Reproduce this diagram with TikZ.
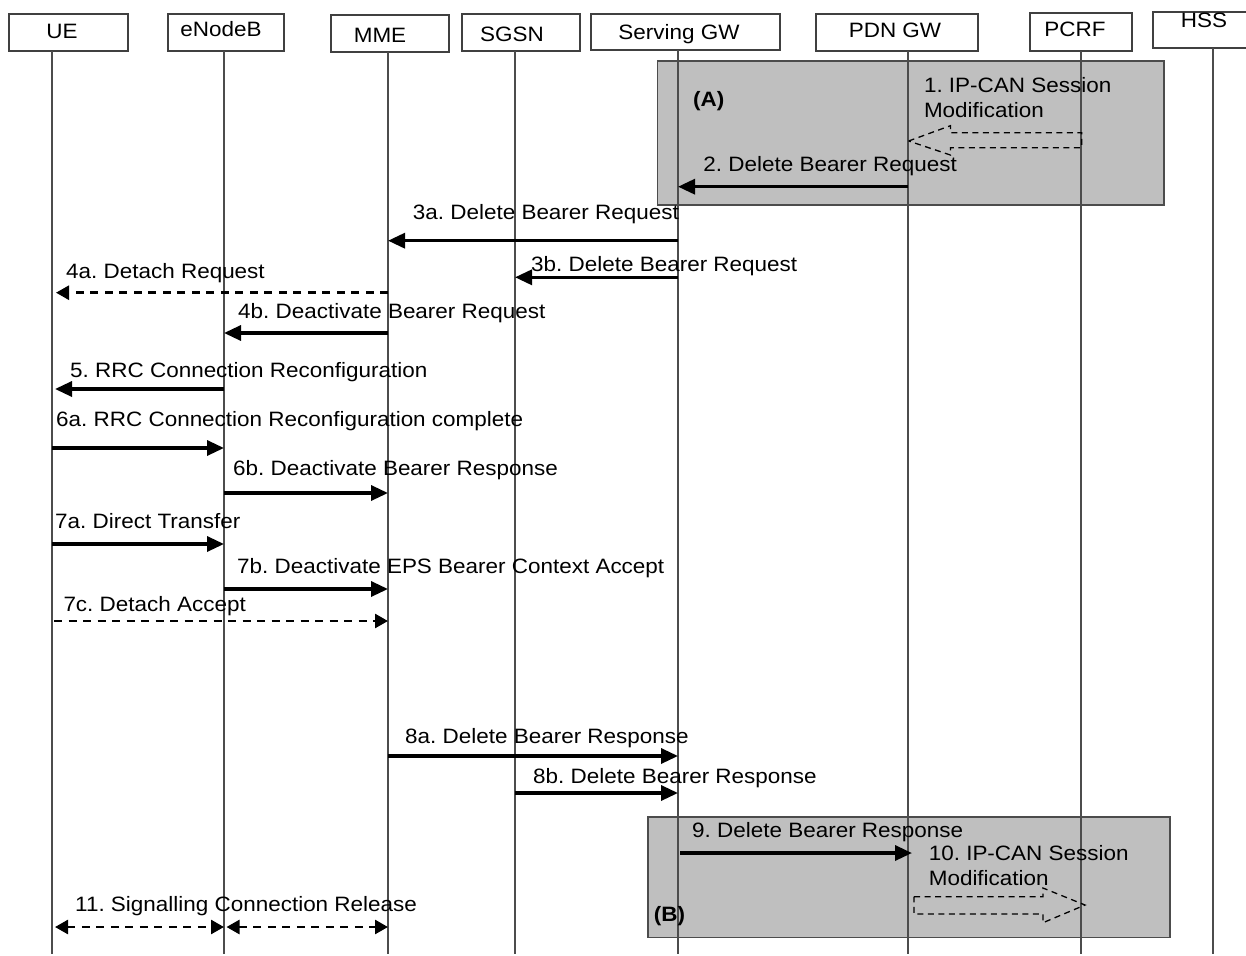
\documentclass[tikz,border=0pt]{standalone}
\usepackage{fontspec}
\setmainfont{Liberation Sans}[FakeStretch=1.08]
\usetikzlibrary{arrows.meta}
\frenchspacing
\begin{document}
\begin{tikzpicture}[x=1pt,y=-1pt,
  font=\fontsize{20.8}{24}\selectfont,
  hdr/.style={draw=black!75, line width=1.3pt, fill=white, inner sep=0pt},
  grp/.style={draw=black!70, line width=1.2pt, fill=black!25},
  life/.style={draw=black!70, line width=1.1pt},
  msg/.style={line width=3.3pt, -{Triangle[length=17pt,width=15pt]}},
  dmsg/.style={line width=2.6pt, dash pattern=on 8pt off 6.5pt, -{Triangle[length=13pt,width=14pt]}},
  dbl/.style={line width=2.6pt, dash pattern=on 8pt off 6.5pt, {Triangle[length=13pt,width=14pt]}-{Triangle[length=13pt,width=14pt]}},
  blk/.style={line width=1.3pt, dash pattern=on 6pt off 4.5pt},
  lbl/.style={anchor=base west, inner sep=0pt},
  htxt/.style={anchor=base, inner sep=0pt}]
\useasboundingbox (0,0) rectangle (1246,955);

% header boxes
\node[hdr, minimum width=119pt, minimum height=37pt] (ue)   at (68.5,32.5) {};
\node[hdr, minimum width=116pt, minimum height=37pt] (enb)  at (226,32.5) {};
\node[hdr, minimum width=118pt, minimum height=37pt] (mme)  at (390,33.5) {};
\node[hdr, minimum width=118pt, minimum height=37pt] (sgsn) at (521,32.5) {};
\node[hdr, minimum width=189pt, minimum height=36pt] (sgw)  at (685.5,32) {};
\node[hdr, minimum width=162pt, minimum height=37pt] (pgw)  at (897,32.5) {};
\node[hdr, minimum width=102pt, minimum height=38pt] (pcrf) at (1081,32) {};
\node[hdr, minimum width=99pt,  minimum height=36pt] (hss)  at (1202.5,30) {};

\node[htxt] (tue)   at (62,39)   {UE};
\node[htxt] (tenb)  at (221,37)  {eNodeB};
\node[htxt] (tmme)  at (380,43)  {MME};
\node[htxt] (tsgsn) at (512,42)  {SGSN};
\node[htxt] (tsgw)  at (679,40)  {Serving GW};
\node[htxt] (tpgw)  at (895,38)  {PDN GW};
\node[htxt] (tpcrf) at (1075,37) {PCRF};
\node[htxt] (thss)  at (1204,28) {HSS};

% group boxes
\draw[grp] (657.6,61) rectangle (1164,205);
\draw[grp] (648,817) rectangle (1170,937.7);

% lifeline coordinates
\coordinate (ueL)   at (52,51);
\coordinate (enbL)  at (224,51);
\coordinate (mmeL)  at (388,52);
\coordinate (sgsnL) at (515,51);
\coordinate (sgwL)  at (678,50);
\coordinate (pgwL)  at (908,51);
\coordinate (pcrfL) at (1081,51);
\coordinate (hssL)  at (1213,48);
\foreach \n in {ueL,enbL,mmeL,sgsnL,sgwL,pgwL,pcrfL,hssL}
  \draw[life] (\n) -- (\n |- 0,954);

% block arrows
\draw[blk] (908.6,141) -- (950.4,125.7) -- (950.4,132.7) -- (1081.6,132.7) -- (1081.6,147.7) -- (950.4,147.7) -- (950.4,155) -- cycle;
\draw[blk] (914,896.7) -- (1043,896.7) -- (1043,888) -- (1085,905) -- (1043,922.7) -- (1043,914) -- (914,914) -- cycle;

% messages
\draw[msg] (pgwL |- 0,186.7) -- (sgwL |- 0,186.7);
\draw[msg] (sgwL |- 0,240.7) -- (mmeL |- 0,240.7);
\draw[msg] (sgwL |- 0,277.3) -- (sgsnL |- 0,277.3);
\draw[dmsg, shorten >=4pt] (mmeL |- 0,292.7) -- (ueL |- 0,292.7);
\draw[msg] (mmeL |- 0,333) -- (enbL |- 0,333);
\draw[msg, shorten >=3pt] (enbL |- 0,389) -- (ueL |- 0,389);
\draw[msg] (ueL |- 0,448) -- (enbL |- 0,448);
\draw[msg] (enbL |- 0,493) -- (mmeL |- 0,493);
\draw[msg] (ueL |- 0,544) -- (enbL |- 0,544);
\draw[msg] (enbL |- 0,589) -- (mmeL |- 0,589);
\draw[dmsg, shorten <=2pt] (ueL |- 0,621) -- (mmeL |- 0,621);
\draw[msg] (mmeL |- 0,756) -- (sgwL |- 0,756);
\draw[msg] (sgsnL |- 0,793) -- (sgwL |- 0,793);
\draw[msg, shorten <=2pt, shorten >=-4pt] (sgwL |- 0,853) -- (pgwL |- 0,853);
\draw[dbl, shorten <=3pt] (ueL |- 0,927) -- (enbL |- 0,927);
\draw[dbl, shorten <=2.5pt] (enbL |- 0,927) -- (mmeL |- 0,927);

% labels
\node[lbl] (l1a) at (923.8,92.3) {1. IP-CAN Session};
\node[lbl] (l1b) at (923.8,117.7) {Modification};
\node[lbl, font=\fontsize{20.8}{24}\selectfont\bfseries] (lA) at (693,106.7) {(A)};
\node[lbl] (l2)  at (703.2,171.7) {2. Delete Bearer Request};
\node[lbl] (l3a) at (412.7,219) {3a. Delete Bearer Request};
\node[lbl] (l3b) at (531,271.7) {3b. Delete Bearer Request};
\node[lbl] (l4a) at (66,278.7) {4a. Detach Request};
\node[lbl] (l4b) at (238,318) {4b. Deactivate Bearer Request};
\node[lbl] (l5)  at (70,377) {5. RRC Connection Reconfiguration};
\node[lbl] (l6a) at (56,426.7) {6a. RRC Connection Reconfiguration complete};
\node[lbl] (l6b) at (233,475) {6b. Deactivate Bearer Response};
\node[lbl] (l7a) at (55,528) {7a. Direct Transfer};
\node[lbl] (l7b) at (237,573) {7b. Deactivate EPS Bearer Context Accept};
\node[lbl] (l7c) at (63.3,611.7) {7c. Detach Accept};
\node[lbl] (l8a) at (405,743) {8a. Delete Bearer Response};
\node[lbl] (l8b) at (533,783) {8b. Delete Bearer Response};
\node[lbl] (l9)  at (692,837.7) {9. Delete Bearer Response};
\node[lbl] (l10a) at (928.6,860) {10. IP-CAN Session};
\node[lbl] (l10b) at (928.6,885) {Modification};
\node[lbl, font=\fontsize{20.8}{24}\selectfont\bfseries] (lB) at (653.6,921) {(B)};
\node[lbl] (l11) at (75,911.7) {11. Signalling Connection Release};
\end{tikzpicture}
\end{document}
